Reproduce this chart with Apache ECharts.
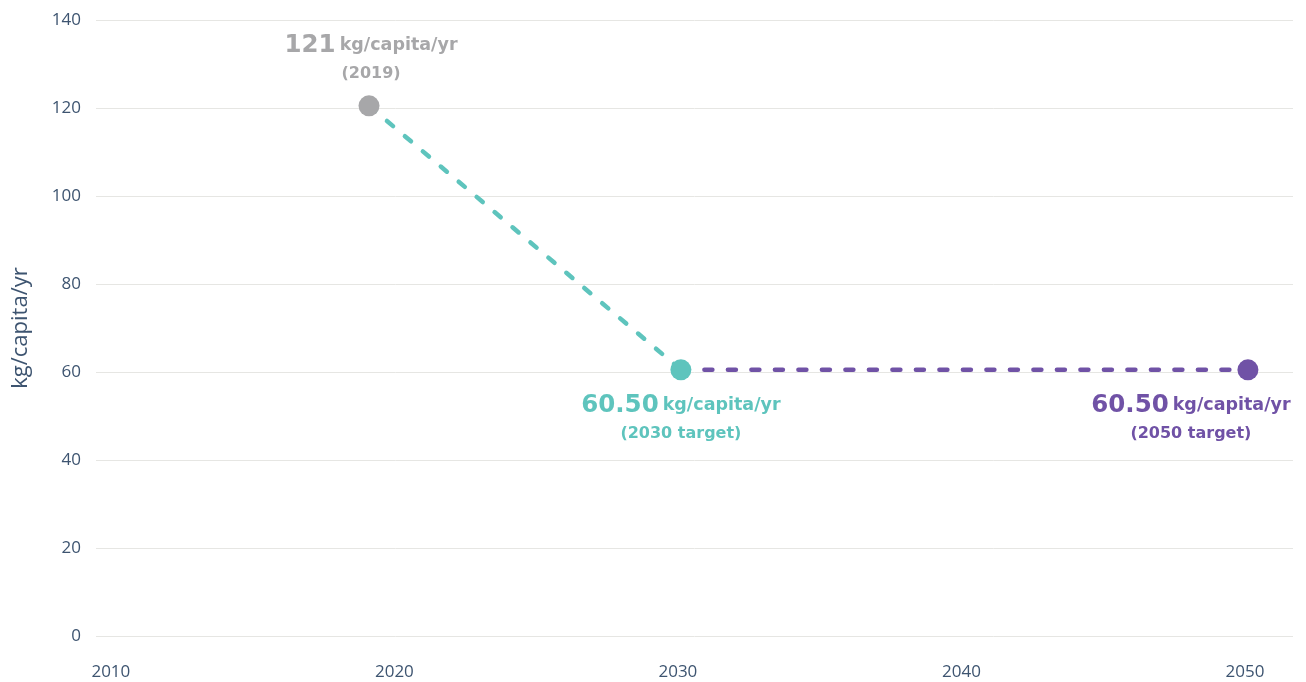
<!DOCTYPE html>
<html>
<head>
<meta charset="utf-8">
<script src="https://cdn.jsdelivr.net/npm/echarts@6/dist/echarts.min.js"></script>
<style>html,body{margin:0;padding:0;background:#fff}#c{width:1306px;height:682px}</style>
</head>
<body>
<div id="c"></div>
<script>
const years = [2019, 2030, 2050];
const values = [120.5, 60.5, 60.5];
const bigLabels = ['121', '60.50', '60.50'];
const subLabels = ['(2019)', '(2030 target)', '(2050 target)'];
const pointColors = ['#a7a7a9', '#5ec4bd', '#7052a6'];
const xTicks = [2010, 2020, 2030, 2040, 2050];
const unit = 'kg/capita/yr';

const FONT = '"DejaVu Sans", sans-serif';
const AXIS_FONT = '"Open Sans", sans-serif';
const AXIS_COLOR = '#3d5470';
const labelPos = [
  {position: 'top', distance: 8, offset: [2, 0]},
  {position: 'bottom', distance: 10, offset: [0, 0]},
  {position: 'bottom', distance: 10, offset: [-57, 0]}
];

function rich(color) {
  return {
    a: {fontFamily: FONT, fontSize: 24.5, fontWeight: 700, color: color, padding: [0, 4, 0, 0], lineHeight: 30},
    b: {fontFamily: FONT, fontSize: 17.5, fontWeight: 700, color: color, lineHeight: 30},
    c: {fontFamily: FONT, fontSize: 16, fontWeight: 600, color: color, lineHeight: 27}
  };
}

const points = years.map((y, i) => ({
  value: [y, values[i]],
  itemStyle: {color: pointColors[i], opacity: 1},
  label: Object.assign({
    show: true,
    formatter: '{a|' + bigLabels[i] + '}{b|' + unit + '}\n{c|' + subLabels[i] + '}',
    rich: rich(pointColors[i]),
    align: 'center'
  }, labelPos[i])
}));

const chart = echarts.init(document.getElementById('c'));
chart.setOption({
  animation: false,
  grid: {left: 96, right: 13, top: 20, bottom: 46},
  xAxis: {
    type: 'value',
    min: 2009.37,
    max: 2051.59,
    axisLine: {show: false},
    axisTick: {show: false},
    splitLine: {show: false},
    axisLabel: {
      customValues: xTicks,
      formatter: v => String(v),
      color: AXIS_COLOR,
      fontFamily: AXIS_FONT,
      fontSize: 17,
      fontWeight: 400,
      margin: 28,
      padding: [0, 6, 0, 0]
    }
  },
  yAxis: {
    type: 'value',
    min: 0,
    max: 140,
    interval: 20,
    name: unit,
    nameLocation: 'middle',
    nameGap: 64,
    nameTextStyle: {color: AXIS_COLOR, fontFamily: AXIS_FONT, fontSize: 22, fontWeight: 400},
    axisLine: {show: false},
    axisTick: {show: false},
    axisLabel: {color: AXIS_COLOR, fontFamily: AXIS_FONT, fontSize: 17, fontWeight: 400, margin: 15},
    splitLine: {lineStyle: {color: '#e6e6e3', width: 1}}
  },
  series: [
    {
      type: 'line',
      data: [[years[0], values[0]], [years[1], values[1]]],
      showSymbol: false,
      symbol: 'none',
      lineStyle: {color: pointColors[1], width: 4.5, type: [8, 15.5], cap: 'round'},
      z: 2
    },
    {
      type: 'line',
      data: [[years[1], values[1]], [years[2], values[2]]],
      showSymbol: false,
      symbol: 'none',
      lineStyle: {color: pointColors[2], width: 4.5, type: [8, 15.5], cap: 'round'},
      z: 2
    },
    {
      type: 'scatter',
      data: points,
      symbolSize: 21,
      z: 3
    }
  ]
});
</script>
</body>
</html>
